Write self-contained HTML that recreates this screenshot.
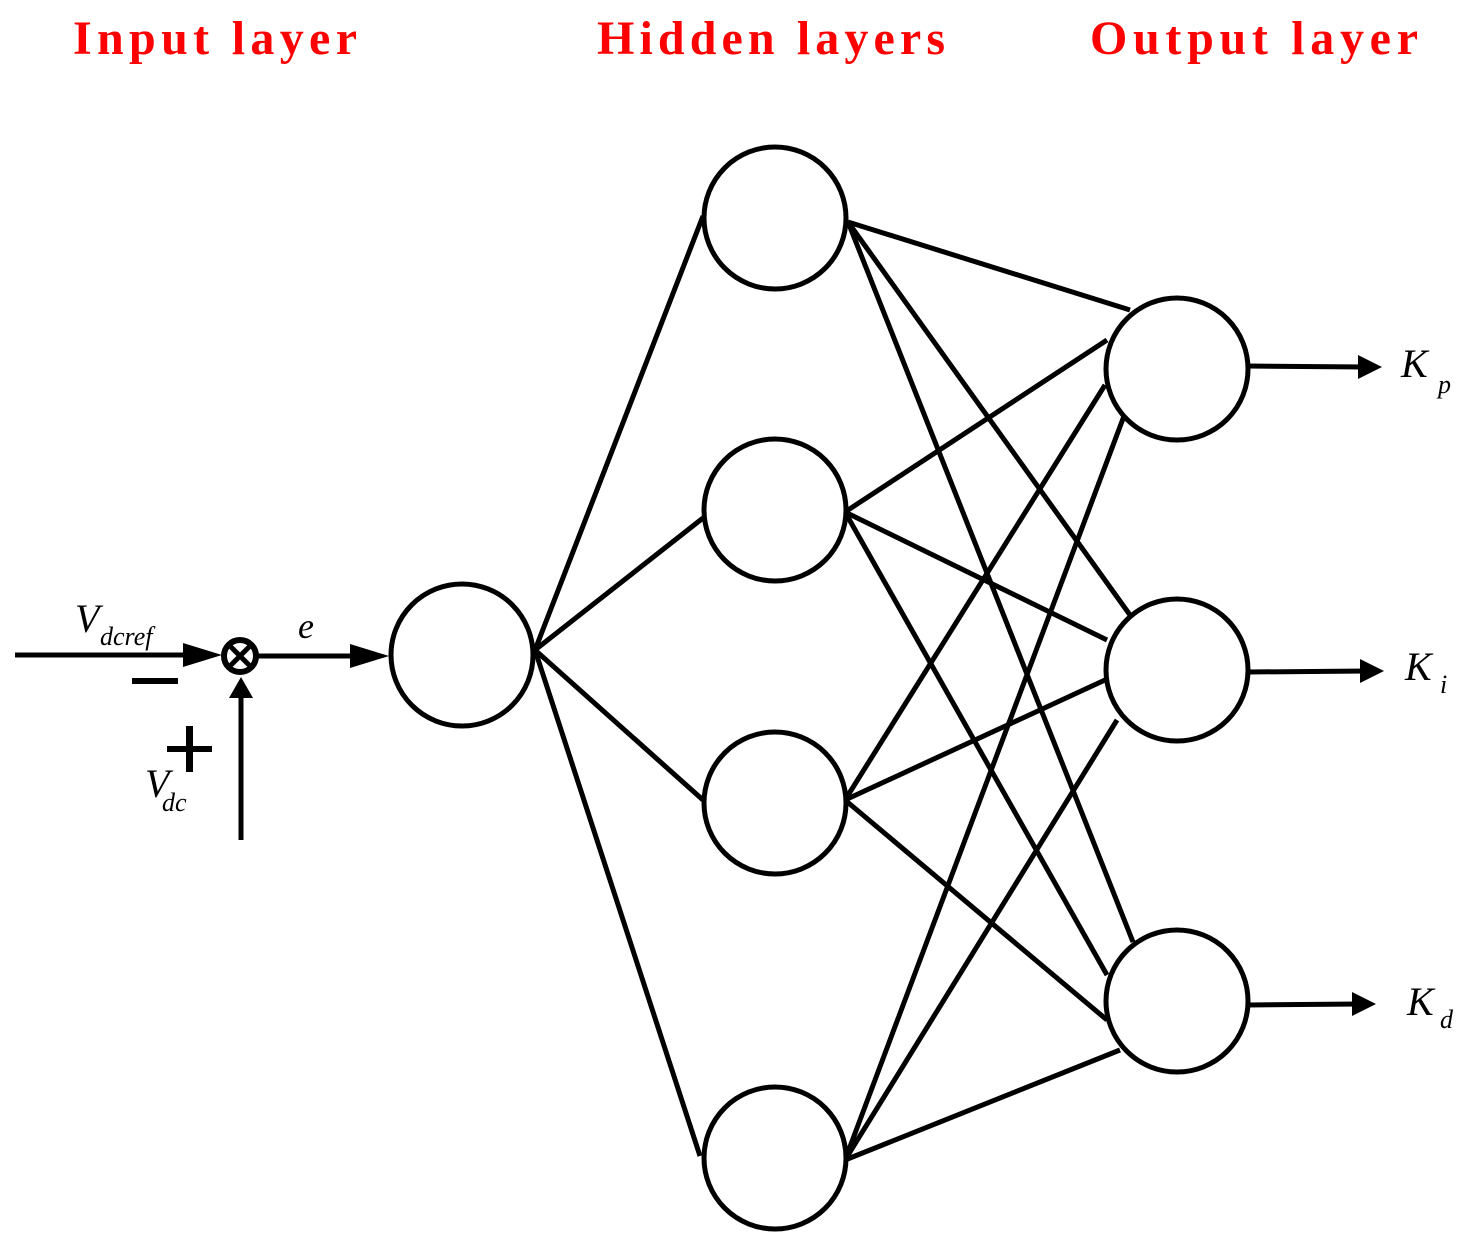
<!DOCTYPE html>
<html><head><meta charset="utf-8"><style>
html,body{margin:0;padding:0;background:#fff;}
svg{display:block;}
.t{font-family:"Liberation Serif",serif;font-weight:bold;fill:#f00;font-size:48px;}
.i{font-family:"Liberation Serif",serif;font-style:italic;fill:#000;}
</style></head><body>
<svg width="1476" height="1251" viewBox="0 0 1476 1251" xmlns="http://www.w3.org/2000/svg">
<text class="t" x="73" y="54" textLength="284" lengthAdjust="spacing">Input  layer</text>
<text class="t" x="597" y="54" textLength="348" lengthAdjust="spacing">Hidden  layers</text>
<text class="t" x="1090" y="54" textLength="328" lengthAdjust="spacing">Output  layer</text>
<g stroke="#000" stroke-width="5" fill="none">
<line x1="535" y1="650" x2="703" y2="216"/>
<line x1="535" y1="650" x2="703" y2="518"/>
<line x1="535" y1="650" x2="703" y2="800"/>
<line x1="535" y1="650" x2="700" y2="1156"/>
<line x1="848" y1="222" x2="1130" y2="310"/>
<line x1="848" y1="222" x2="1130" y2="615"/>
<line x1="848" y1="222" x2="1133" y2="942"/>
<line x1="845" y1="512" x2="1107" y2="340"/>
<line x1="845" y1="512" x2="1107" y2="640"/>
<line x1="845" y1="512" x2="1107" y2="975"/>
<line x1="845" y1="800" x2="1105" y2="385"/>
<line x1="845" y1="800" x2="1105" y2="680"/>
<line x1="845" y1="800" x2="1107" y2="1020"/>
<line x1="845" y1="1160" x2="1130" y2="400"/>
<line x1="845" y1="1160" x2="1117" y2="720"/>
<line x1="845" y1="1160" x2="1120" y2="1050"/>
</g>
<g stroke="#000" stroke-width="5" fill="#fff">
<circle cx="462" cy="655" r="71"/>
<circle cx="775" cy="218" r="71"/>
<circle cx="775" cy="510" r="71"/>
<circle cx="775" cy="803" r="71"/>
<circle cx="775" cy="1158" r="71"/>
<circle cx="1177" cy="369" r="71"/>
<circle cx="1177" cy="670" r="71"/>
<circle cx="1177" cy="1001" r="71"/>
</g>
<g stroke="#000" stroke-width="5" fill="none">
<line x1="15" y1="655" x2="205" y2="655"/>
<line x1="258" y1="656" x2="372" y2="656"/>
<line x1="241" y1="840" x2="241" y2="695"/>
<line x1="1248" y1="366" x2="1365" y2="367"/>
<line x1="1248" y1="672" x2="1367" y2="671"/>
<line x1="1248" y1="1005" x2="1360" y2="1004"/>
</g>
<g fill="#000">
<polygon points="183,643 222,655 183,667"/>
<polygon points="350,644 389,656 350,668"/>
<polygon points="229,698 241,677 253,698"/>
<polygon points="1358,355 1382,367 1358,379"/>
<polygon points="1360,659 1384,671 1360,683"/>
<polygon points="1352,992 1376,1004 1352,1016"/>
<rect x="132" y="678" width="46" height="6"/>
<rect x="167" y="746" width="45" height="6"/>
<rect x="186" y="726" width="7" height="46"/>
</g>
<circle cx="240" cy="656" r="16" stroke="#000" stroke-width="6" fill="#fff"/>
<g stroke="#000" stroke-width="5"><line x1="230" y1="646" x2="250" y2="666"/><line x1="250" y1="646" x2="230" y2="666"/></g>
<text class="i" x="75" y="632" font-size="40">V</text>
<text class="i" x="100" y="645" font-size="26">dcref</text>
<text class="i" x="298" y="638" font-size="36">e</text>
<text class="i" x="145" y="797" font-size="40">V</text>
<text class="i" x="162" y="811" font-size="26">dc</text>
<text class="i" x="1401" y="377" font-size="40">K</text>
<text class="i" x="1438" y="393" font-size="26">p</text>
<text class="i" x="1405" y="680" font-size="40">K</text>
<text class="i" x="1440" y="693" font-size="26">i</text>
<text class="i" x="1407" y="1015" font-size="40">K</text>
<text class="i" x="1440" y="1028" font-size="26">d</text>
</svg>
</body></html>
